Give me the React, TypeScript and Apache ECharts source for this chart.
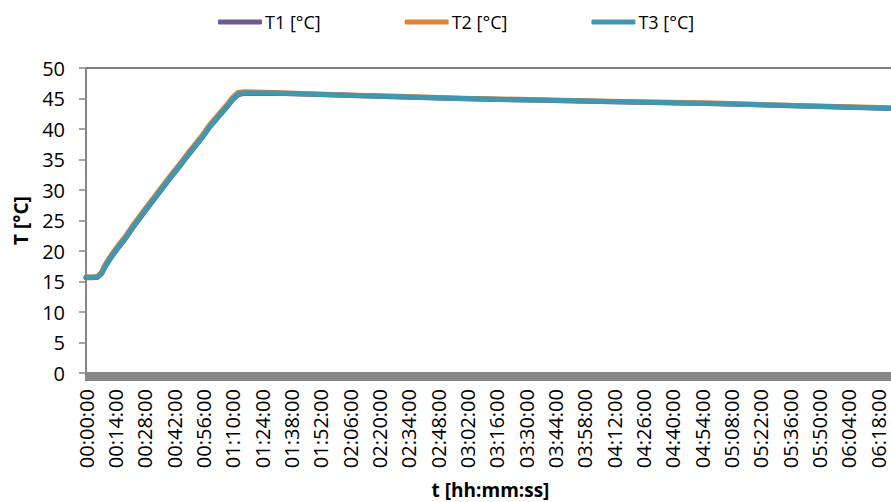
import React, { useEffect, useRef } from "react";
import * as echarts from "echarts";

// time in minutes since start
const timeMin = [0, 3, 5.5, 7.5, 9, 11.5, 15.5, 19, 22.5, 26, 29, 33, 37, 41, 45, 48.5, 52, 55.5, 59, 63, 67, 70, 72.5, 75, 90, 110, 130, 150, 180, 216, 250, 300, 340, 386];
const t1 = [15.6, 15.6, 15.7, 16.3, 17.3, 18.7, 20.6, 22.1, 23.9, 25.5, 26.9, 28.7, 30.5, 32.3, 34.0, 35.6, 37.1, 38.6, 40.3, 41.9, 43.5, 44.8, 45.6, 45.8, 45.85, 45.65, 45.45, 45.25, 44.95, 44.7, 44.45, 44.15, 43.75, 43.35];
const t2 = [15.75, 15.75, 15.85, 16.6, 17.7, 19.1, 21.0, 22.5, 24.3, 25.9, 27.3, 29.1, 30.9, 32.7, 34.4, 36.0, 37.5, 39.0, 40.7, 42.3, 43.9, 45.2, 46.0, 46.1, 46.0, 45.75, 45.55, 45.35, 45.05, 44.8, 44.55, 44.25, 43.85, 43.45];
const t3 = [15.7, 15.7, 15.75, 16.4, 17.4, 18.8, 20.7, 22.2, 24.0, 25.6, 27.0, 28.8, 30.6, 32.4, 34.1, 35.7, 37.2, 38.7, 40.4, 42.0, 43.6, 44.9, 45.7, 45.9, 45.9, 45.7, 45.5, 45.3, 45.0, 44.75, 44.5, 44.2, 43.8, 43.4];

const seriesNames = ["T1 [°C]", "T2 [°C]", "T3 [°C]"];
const seriesColors = ["#6D5A96", "#E0823A", "#3F98AF"];
const yTicks = { min: 0, max: 50, interval: 5 };
const xTicks = { min: 0, max: 386, interval: 14 };

const FONT = "'Open Sans', sans-serif";

function fmt(v: number): string {
  if (Math.round(v) % 14 !== 0) return "";
  const h = Math.floor(v / 60);
  const m = Math.round(v % 60);
  return String(h).padStart(2, "0") + ":" + String(m).padStart(2, "0") + ":00";
}

export default function App() {
  const ref = useRef<HTMLDivElement>(null);
  useEffect(() => {
    if (!ref.current) return;
    const chart = echarts.init(ref.current, undefined, { renderer: "svg" });
    const all = [t1, t2, t3];
    chart.setOption({
      animation: false,
      backgroundColor: "#fff",
      textStyle: { fontFamily: FONT },
      legend: {
        left: 213,
        top: 8,
        itemWidth: 44,
        itemHeight: 5,
        itemGap: 84,
        textStyle: { fontFamily: FONT, fontSize: 18, color: "#000", padding: [0, 0, 0, -2] },
        data: seriesNames.map((n) => ({ name: n, icon: "roundRect" })),
      },
      grid: {
        left: 86,
        right: -4,
        top: 68,
        bottom: 129,
        show: true,
        borderColor: "#000",
        borderWidth: 1,
        backgroundColor: "transparent",
        containLabel: false,
        outerBoundsMode: "none",
      },
      xAxis: {
        type: "value",
        min: xTicks.min,
        max: xTicks.max,
        interval: xTicks.interval,
        name: "t [hh:mm:ss]",
        nameLocation: "middle",
        nameGap: 107,
        nameTextStyle: { fontFamily: FONT, fontSize: 19, fontWeight: "bold", color: "#000" },
        axisLine: { show: true, lineStyle: { color: "#878787", width: 2 } },
        axisTick: { show: true, length: 8, lineStyle: { color: "#878787", width: 3 } },
        minorTick: { show: true, splitNumber: 14, length: 8, lineStyle: { color: "#878787", width: 3 } },
        splitLine: { show: false },
        minorSplitLine: { show: false },
        axisLabel: {
          rotate: 90,
          margin: 16,
          fontFamily: FONT,
          fontSize: 20,
          lineHeight: 16,
          color: "#000",
          showMaxLabel: false,
          formatter: (v: number) => fmt(v),
        },
      },
      yAxis: {
        type: "value",
        min: yTicks.min,
        max: yTicks.max,
        interval: yTicks.interval,
        name: "T [°C]",
        nameLocation: "middle",
        nameGap: 56,
        nameTextStyle: { fontFamily: FONT, fontSize: 19, fontWeight: "bold", color: "#000" },
        axisLine: { show: true, lineStyle: { color: "#868686", width: 2 } },
        axisTick: { show: true, length: 7, lineStyle: { color: "#868686", width: 1.5 } },
        splitLine: { show: false },
        axisLabel: { margin: 21, fontFamily: FONT, fontSize: 20, color: "#000" },
      },
      series: seriesNames.map((n, i) => ({
        name: n,
        type: "line",
        showSymbol: false,
        symbol: "none",
        color: seriesColors[i],
        lineStyle: { width: 5, color: seriesColors[i], cap: "round", join: "round" },
        data: timeMin.map((t, k) => [t, all[i][k]]),
        z: 2 + i,
      })),
    });
    return () => chart.dispose();
  }, []);
  return <div ref={ref} style={{ position: "fixed", left: 0, top: 0, width: 891, height: 502 }} />;
}
